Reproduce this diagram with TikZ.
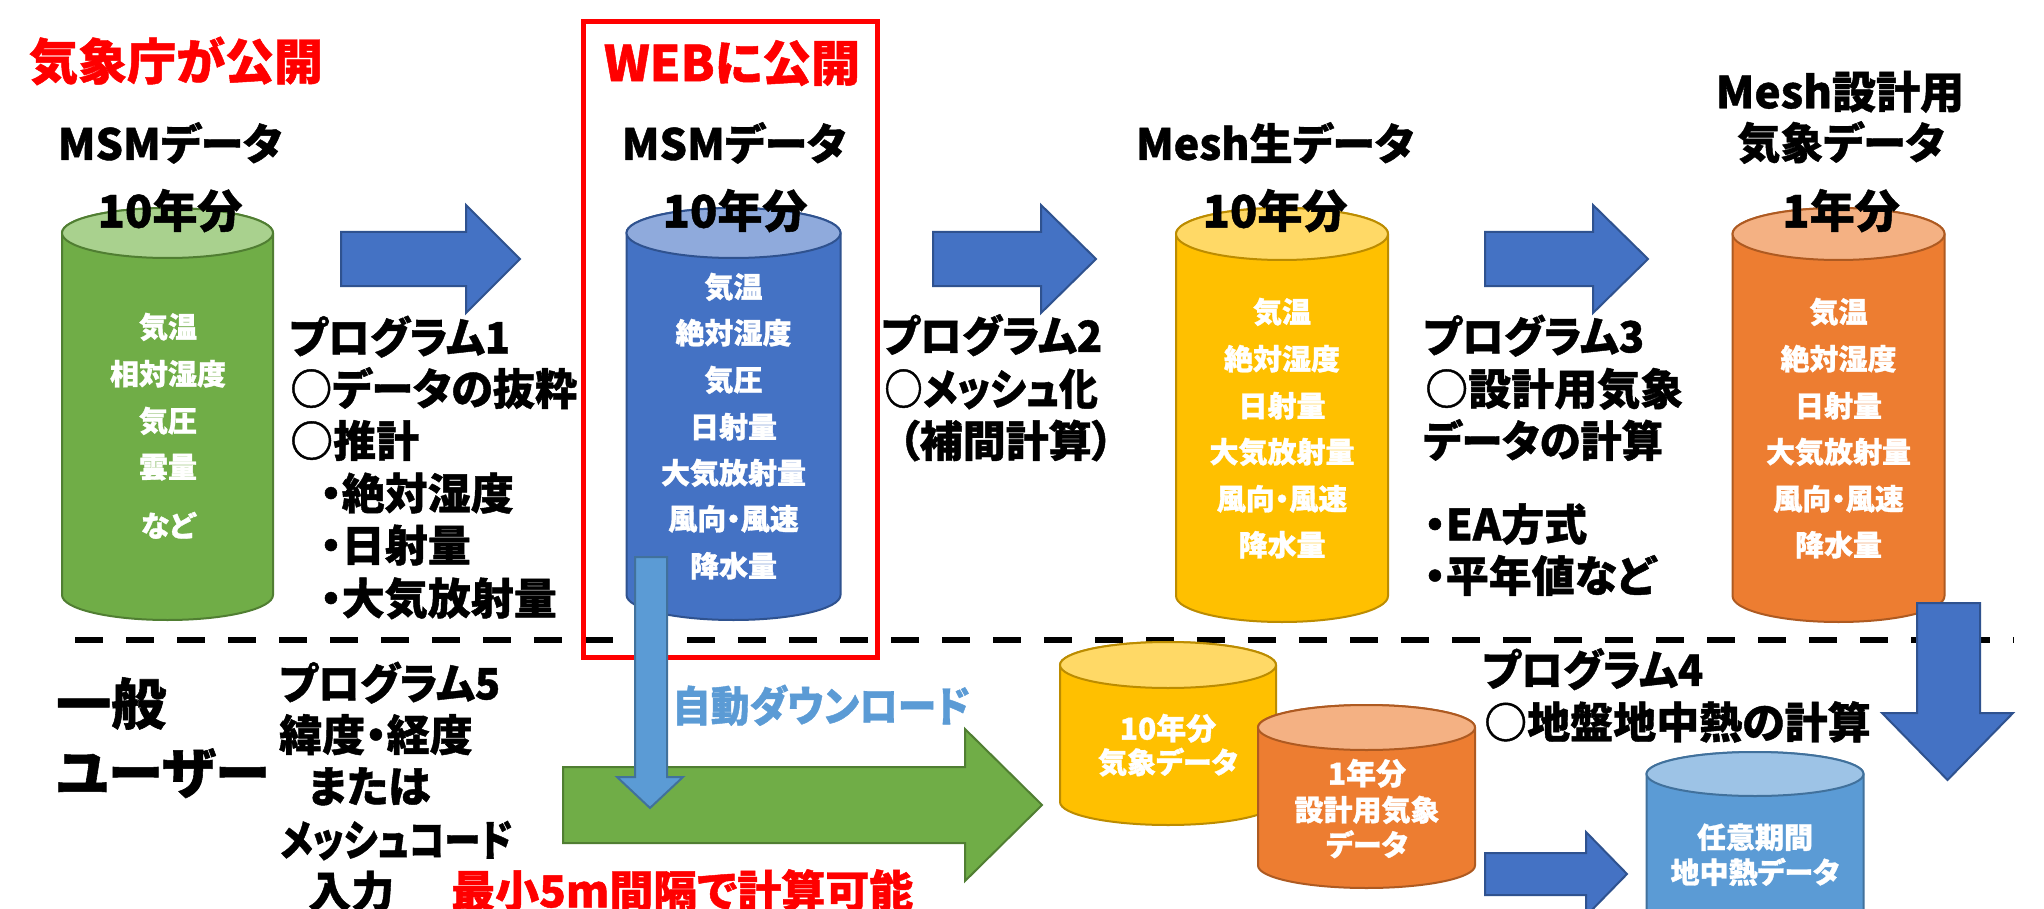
\documentclass[tikz,border=0pt]{standalone}
\usepackage{fontspec}
\setmainfont{Noto Sans CJK JP}[RawFeature=+palt, BoldFeatures={FakeBold=1}]
\definecolor{grB}{HTML}{70AD47}\definecolor{grT}{HTML}{A9D18E}\definecolor{grL}{HTML}{507E32}
\definecolor{blB}{HTML}{4472C4}\definecolor{blT}{HTML}{8FAADC}\definecolor{blL}{HTML}{2F528F}
\definecolor{yeB}{HTML}{FFC000}\definecolor{yeT}{HTML}{FFD966}\definecolor{yeL}{HTML}{BC8C00}
\definecolor{orB}{HTML}{ED7D31}\definecolor{orT}{HTML}{F4B183}\definecolor{orL}{HTML}{AE5A21}
\definecolor{lbB}{HTML}{5B9BD5}\definecolor{lbT}{HTML}{9DC3E6}\definecolor{lbL}{HTML}{41719C}
\definecolor{abB}{HTML}{4472C4}\definecolor{abL}{HTML}{2F528F}
\definecolor{dlc}{HTML}{5B9BD5}
\definecolor{redc}{HTML}{FF0000}
\newcommand\drawcyl[6]{%
  \path[fill=#6B, draw=#6L, line width=2pt] (#1-#2,#3) -- (#1-#2,#5)
    arc[start angle=180,end angle=360,x radius=#2pt,y radius=#4pt] -- (#1+#2,#3)
    arc[start angle=0,end angle=180,x radius=#2pt,y radius=#4pt] -- cycle;
  \path[fill=#6T, draw=#6L, line width=2pt] (#1,#3) ellipse[x radius=#2pt,y radius=#4pt];}
\newcommand\myrarrow[8]{%
  \path[fill=#8B, draw=#8L, line width=2pt] (#1,#2) -- (#4,#2) -- (#4,#5) -- ({#7},{(#5+#6)/2}) -- (#4,#6) -- (#4,#3) -- (#1,#3) -- cycle;}
\newcommand\mydarrow[8]{%
  \path[fill=#8B, draw=#8L, line width=2pt] (#1,#3) -- (#2,#3) -- (#2,#4) -- (#6,#4) -- ({(#5+#6)/2},{#7}) -- (#5,#4) -- (#1,#4) -- cycle;}
\newcommand\narrowtxt[2]{\scalebox{#1}[1]{#2}}
\tikzset{
  t29/.style={font=\fontsize{29}{29}\selectfont\bfseries, text height=23.2pt, text depth=1.74pt, inner sep=0pt},
  t30/.style={font=\fontsize{30}{30}\selectfont\bfseries, text height=24pt, text depth=1.8pt, inner sep=0pt},
  t42/.style={font=\fontsize{42}{42}\selectfont\bfseries, text height=33.6pt, text depth=2.52pt, inner sep=0pt},
  t43/.style={font=\fontsize{43}{43}\selectfont\bfseries, text height=34.4pt, text depth=2.58pt, inner sep=0pt},
  t44/.style={font=\fontsize{44}{44}\selectfont\bfseries, text height=35.2pt, text depth=2.64pt, inner sep=0pt},
  t45/.style={font=\fontsize{45}{45}\selectfont\bfseries, text height=36pt, text depth=2.7pt, inner sep=0pt},
  t49/.style={font=\fontsize{49}{49}\selectfont\bfseries, text height=39.2pt, text depth=2.94pt, inner sep=0pt},
  t55/.style={font=\fontsize{55}{55}\selectfont\bfseries, text height=44pt, text depth=3.3pt, inner sep=0pt},
  cyltext/.style={t29, text=white},
  prog/.style={t43, anchor=west},
}
\begin{document}
\begin{tikzpicture}[x=1pt,y=-1pt]
\useasboundingbox (0,0) rectangle (2044,909);
\clip (0,0) rectangle (2044,909);
\fill[white] (0,0) rectangle (2044,909);
% dashed separator
\coordinate (dashL) at (75,640);
\coordinate (dashR) at (2014,640);
\draw[line width=6.5pt, dash pattern=on 28pt off 23pt] (dashL) -- (dashR);
% red WEB box
\node[draw=redc, line width=5pt, minimum width=294pt, minimum height=635pt, inner sep=0pt] (webbox) at (730,339.5) {};
% top cylinders
\drawcyl{167.5}{105.5}{233}{25}{595}{gr}
\drawcyl{733.5}{107}{233}{25}{595}{bl}
\drawcyl{1282}{106}{234}{26}{596}{ye}
\drawcyl{1838.5}{106}{234}{26}{596}{or}
% top arrows
\myrarrow{341}{232}{286}{466}{205}{313}{520}{ab}
\myrarrow{933}{232}{286}{1041}{205}{313}{1096}{ab}
\myrarrow{1485}{232}{286}{1593}{205}{313}{1648}{ab}
% bottom cylinders
\drawcyl{1168}{108}{665}{23}{802}{ye}
\drawcyl{1366.5}{108.5}{727.5}{22.5}{865.5}{or}
\drawcyl{1755}{108.5}{774}{22}{1000}{lb}
% green arrow
\myrarrow{563}{767}{843}{965}{729}{881}{1042}{gr}
% light blue download arrow
\mydarrow{635}{667}{557}{777}{617}{683}{808}{lb}
% big blue down arrow
\mydarrow{1917}{1980}{603}{713}{1882}{2013}{780}{ab}
% small blue right arrow
\myrarrow{1485}{853}{895}{1586}{832}{916}{1627}{ab}
% header texts
\node[t49, text=redc] (hdrJMA) at (176,61.5) {気象庁が公開};
\node[t49, text=redc] (hdrWEB) at (732,63) {WEBに公開};
\node[t43] (msmA) at (170,144) {MSMデータ};
\node[t45] (yrA) at (170,211) {10年分};
\node[t43] (msmB) at (734,144) {MSMデータ};
\node[t45] (yrB) at (735,211) {10年分};
\node[t43] (meshA) at (1275,144) {Mesh生データ};
\node[t45] (yrC) at (1275,211) {10年分};
\node[t44] (meshB1) at (1840,92) {Mesh設計用};
\node[t43] (meshB2) at (1841,143) {気象データ};
\node[t45] (yrD) at (1841,211) {1年分};
% green cylinder text
\node[cyltext] (g1) at (168,327) {気温};
\node[cyltext] (g2) at (168,374) {相対湿度};
\node[cyltext] (g3) at (168,421) {気圧};
\node[cyltext] (g4) at (168,467) {雲量};
\node[cyltext] (g5) at (168,526) {など};
% blue cylinder text
\node[cyltext] (b1) at (733.5,287) {気温};
\node[cyltext] (b2) at (733.5,333) {絶対湿度};
\node[cyltext] (b3) at (733.5,380) {気圧};
\node[cyltext] (b4) at (733.5,427) {日射量};
\node[cyltext] (b5) at (733.5,473) {大気放射量};
\node[cyltext] (b6) at (733.5,519) {風向・風速};
\node[cyltext] (b7) at (733.5,566) {降水量};
% yellow cylinder text
\node[cyltext] (y1) at (1282,312) {気温};
\node[cyltext] (y2) at (1282,359) {絶対湿度};
\node[cyltext] (y3) at (1282,406) {日射量};
\node[cyltext] (y4) at (1282,452) {大気放射量};
\node[cyltext] (y5) at (1282,499) {風向・風速};
\node[cyltext] (y6) at (1282,545) {降水量};
% orange cylinder text
\node[cyltext] (o1) at (1838.5,312) {気温};
\node[cyltext] (o2) at (1838.5,359) {絶対湿度};
\node[cyltext] (o3) at (1838.5,406) {日射量};
\node[cyltext] (o4) at (1838.5,452) {大気放射量};
\node[cyltext] (o5) at (1838.5,499) {風向・風速};
\node[cyltext] (o6) at (1838.5,545) {降水量};
% program 1
\node[prog] (p1a) at (289,337.5) {\narrowtxt{0.97}{プログラム1}};
\node[prog] (p1b) at (290,389) {\narrowtxt{0.98}{○データの抜粋}};
\node[prog] (p1c) at (290,441) {○推計};
\node[prog] (p1d) at (320,493.5) {・絶対湿度};
\node[prog] (p1e) at (320,545.5) {・日射量};
\node[prog] (p1f) at (320,598.5) {・大気放射量};
% program 2
\node[prog] (p2a) at (881,336) {\narrowtxt{0.97}{プログラム2}};
\node[prog] (p2b) at (884,389) {\narrowtxt{0.9}{○メッシュ化}};
\node[prog] (p2c) at (898,441) {（補間計算）};
% program 3
\node[prog] (p3a) at (1423,336.5) {\narrowtxt{0.97}{プログラム3}};
\node[prog] (p3b) at (1425,389) {○設計用気象};
\node[prog] (p3c) at (1423,441) {\narrowtxt{0.96}{データの計算}};
\node[prog] (p3d) at (1424,524.5) {・EA方式};
\node[prog] (p3e) at (1424,576) {・平年値など};
% program 4
\node[prog] (p4a) at (1482,670) {\narrowtxt{0.97}{プログラム4}};
\node[prog] (p4b) at (1484,722.5) {○地盤地中熱の計算};
% program 5
\node[prog] (p5a) at (279,683.5) {\narrowtxt{0.97}{プログラム5}};
\node[prog] (p5b) at (279,735) {緯度・経度};
\node[prog] (p5c) at (308,786.5) {または};
\node[prog] (p5d) at (280,840) {\narrowtxt{0.85}{メッシュコード}};
\node[prog] (p5e) at (308,891.5) {入力};
% user label
\node[t55, anchor=west] (user1) at (56,704) {一般};
\node[t55, anchor=west] (user2) at (56,773) {ユーザー};
% download / resolution
\node[t42, anchor=west, text=dlc] (dltext) at (672,706) {\narrowtxt{0.92}{自動ダウンロード}};
\node[t44, anchor=west, text=redc] (mintext) at (451,891) {最小5m間隔で計算可能};
% bottom cylinder texts
\node[t30, text=white] (yb1) at (1168,728.5) {10年分};
\node[cyltext] (yb2) at (1168,762.5) {気象データ};
\node[t30, text=white] (ob1) at (1367,773.5) {1年分};
\node[cyltext] (ob2) at (1367,810) {設計用気象};
\node[cyltext] (ob3) at (1367,845) {データ};
\node[cyltext] (lb1) at (1755,837.5) {任意期間};
\node[cyltext] (lb2) at (1755,872.5) {地中熱データ};
\end{tikzpicture}
\end{document}
